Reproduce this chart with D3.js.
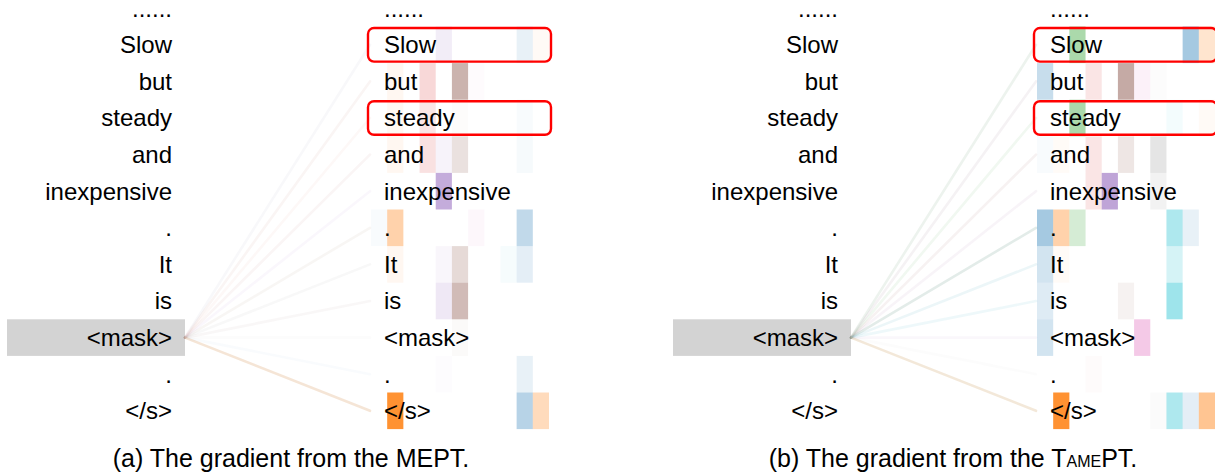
<!DOCTYPE html>
<html>
<head>
<meta charset="utf-8">
<script src="https://cdn.jsdelivr.net/npm/d3@7"></script>
<style>
  html, body { margin: 0; padding: 0; background: #fff; }
  svg { display: block; font-family: "Liberation Sans", Arial, Helvetica, sans-serif; }
</style>
</head>
<body>
<svg id="chart" width="1215" height="472"></svg>
<script>
// ---------- DATA ----------
const tokens = ["......", "Slow", "but", "steady", "and", "inexpensive", ".", "It", "is", "<mask>", ".", "</s>"];
const maskIndex = 9;
const highlighted = [1, 3];           // "Slow", "steady"
const nHeads = 11;                    // heatmap columns

// gradient magnitudes per token row (rows 1..11), per column 0..10
const meptGrad = [
  [0, 0, 0, 0, 0.12, 0, 0, 0, 0, 0.10, 0.04],      // Slow
  [0, 0.06, 0, 0.18, 0, 0.45, 0.03, 0, 0, 0, 0],   // but
  [0, 0.05, 0, 0.12, 0, 0.02, 0, 0, 0, 0.03, 0],   // steady
  [0, 0.06, 0, 0.14, 0.08, 0.18, 0, 0, 0, 0.04, 0],// and
  [0, 0, 0, 0, 0.55, 0, 0, 0, 0, 0, 0],            // inexpensive
  [0.03, 0.35, 0, 0, 0, 0, 0.06, 0, 0, 0.28, 0],   // .
  [0, 0.06, 0, 0, 0.06, 0.22, 0, 0, 0.04, 0.12, 0],// It
  [0, 0, 0, 0, 0.15, 0.40, 0, 0, 0, 0, 0],         // is
  [0, 0, 0, 0, 0, 0.03, 0, 0, 0, 0, 0],            // <mask>
  [0, 0, 0, 0, 0.02, 0, 0, 0, 0, 0.10, 0],         // .
  [0, 0.85, 0, 0, 0, 0, 0, 0, 0, 0.32, 0.28]       // </s>
];
const tameGrad = [
  [0, 0, 0.40, 0, 0, 0, 0, 0, 0, 0.40, 0.20],      // Slow
  [0.25, 0, 0, 0.12, 0, 0.50, 0.10, 0.02, 0, 0, 0],// but
  [0, 0, 0.40, 0, 0, 0, 0, 0, 0.05, 0, 0.04],      // steady
  [0.03, 0.03, 0, 0.12, 0, 0.15, 0, 0.20, 0, 0, 0],// and
  [0, 0, 0, 0.12, 0.60, 0, 0, 0.10, 0, 0, 0],      // inexpensive
  [0.40, 0.35, 0.20, 0, 0, 0, 0, 0, 0.35, 0.10, 0],// .
  [0.20, 0.03, 0, 0, 0, 0, 0, 0, 0.18, 0, 0],      // It
  [0.15, 0, 0, 0, 0, 0.08, 0, 0, 0.42, 0, 0],      // is
  [0.20, 0, 0, 0, 0, 0, 0.40, 0, 0, 0, 0],         // <mask>
  [0, 0, 0, 0.02, 0, 0, 0, 0, 0, 0, 0],            // .
  [0, 0.85, 0, 0, 0, 0, 0, 0.03, 0.35, 0.12, 0.45] // </s>
];
// strength of the link from <mask> to each token (rows 1..11)
const meptLinks = [0.05, 0.06, 0.04, 0.06, 0.05, 0.07, 0.05, 0.05, 0.03, 0.03, 0.20];
const tameLinks = [0.10, 0.08, 0.07, 0.08, 0.07, 0.17, 0.09, 0.08, 0.06, 0.03, 0.20];

const captions = ["(a) The gradient from the MEPT.", "(b) The gradient from the T|AME|PT."];

// ---------- LAYOUT ----------
const svg = d3.select("#chart");
const palette = [0, 1, 2, 3, 4, 5, 6, 7, 9].map(i => d3.schemeCategory10[i]);
const colColor = j => palette[j % palette.length];

const rowStep = 36.6;
const y = d3.scaleBand()
  .domain(d3.range(tokens.length))
  .range([26.5 - rowStep, 26.5 + (tokens.length - 1) * rowStep])
  .padding(0);
const x = d3.scaleBand().domain(d3.range(nHeads)).range([0, 178]).padding(0);

const panels = [
  { dx: 0, grad: meptGrad, links: meptLinks, caption: captions[0], cx: 291 },
  { dx: 666, grad: tameGrad, links: tameLinks, caption: captions[1], cx: 953 }
];

function rowColor(vals) {
  let r = 0, g = 0, b = 0, s = 0;
  vals.forEach((v, j) => {
    const c = d3.rgb(colColor(j));
    r += c.r * v; g += c.g * v; b += c.b * v; s += v;
  });
  if (s < 0.05) return "#999999";
  return d3.rgb(r / s, g / s, b / s).formatHex();
}

panels.forEach(p => {
  const g = svg.append("g").attr("transform", `translate(${p.dx},0)`);
  const heatX = 371;
  const leftLabelX = 172;
  const rightLabelX = 384;

  // mask highlight box (left column)
  g.append("rect")
    .attr("x", 7).attr("width", 178)
    .attr("y", y(maskIndex)).attr("height", y.bandwidth())
    .attr("fill", "#d3d3d3");

  // links from <mask> to every token
  const src = [185, y(maskIndex) + y.bandwidth() / 2];
  g.append("g").selectAll("line")
    .data(p.links)
    .join("line")
    .attr("x1", src[0]).attr("y1", src[1])
    .attr("x2", heatX - 1)
    .attr("y2", (d, i) => y(i + 1) + y.bandwidth() / 2)
    .attr("stroke", (d, i) => rowColor(p.grad[i]))
    .attr("stroke-opacity", d => d)
    .attr("stroke-width", 2.6)
    .attr("stroke-linecap", "round");

  // heatmap cells
  const hm = g.append("g").attr("transform", `translate(${heatX},0)`);
  p.grad.forEach((row, i) => {
    hm.append("g").selectAll("rect")
      .data(row.map((v, j) => ({ v, j })).filter(d => d.v > 0))
      .join("rect")
      .attr("x", d => x(d.j))
      .attr("y", y(i + 1))
      .attr("width", x.bandwidth())
      .attr("height", y.bandwidth())
      .attr("fill", d => colColor(d.j))
      .attr("fill-opacity", d => d.v);
  });

  // left labels
  g.append("g").selectAll("text")
    .data(tokens)
    .join("text")
    .attr("x", leftLabelX)
    .attr("y", (d, i) => Math.max(y(i) + y.bandwidth() / 2, 9))
    .attr("dy", "0.35em")
    .attr("text-anchor", "end")
    .attr("font-size", 24)
    .attr("fill", "#000")
    .text(d => d);

  // right labels
  g.append("g").selectAll("text")
    .data(tokens)
    .join("text")
    .attr("x", rightLabelX)
    .attr("y", (d, i) => Math.max(y(i) + y.bandwidth() / 2, 9))
    .attr("dy", "0.35em")
    .attr("text-anchor", "start")
    .attr("font-size", 24)
    .attr("fill", "#000")
    .text(d => d);

  // red highlight boxes
  g.append("g").selectAll("rect")
    .data(highlighted)
    .join("rect")
    .attr("x", heatX - 3)
    .attr("width", 183)
    .attr("y", d => y(d) + 1.5)
    .attr("height", y.bandwidth() - 3)
    .attr("rx", 6).attr("ry", 6)
    .attr("fill", "none")
    .attr("stroke", "#ff0000")
    .attr("stroke-width", 2.4);

  // caption
  const parts = p.caption.split("|");
  const cap = svg.append("text")
    .attr("x", p.cx)
    .attr("y", 467)
    .attr("text-anchor", "middle")
    .attr("font-size", 25)
    .attr("fill", "#000");
  parts.forEach((t, k) => {
    cap.append("tspan").attr("font-size", k === 1 ? 16 : 25).text(t);
  });
});
</script>
</body>
</html>
